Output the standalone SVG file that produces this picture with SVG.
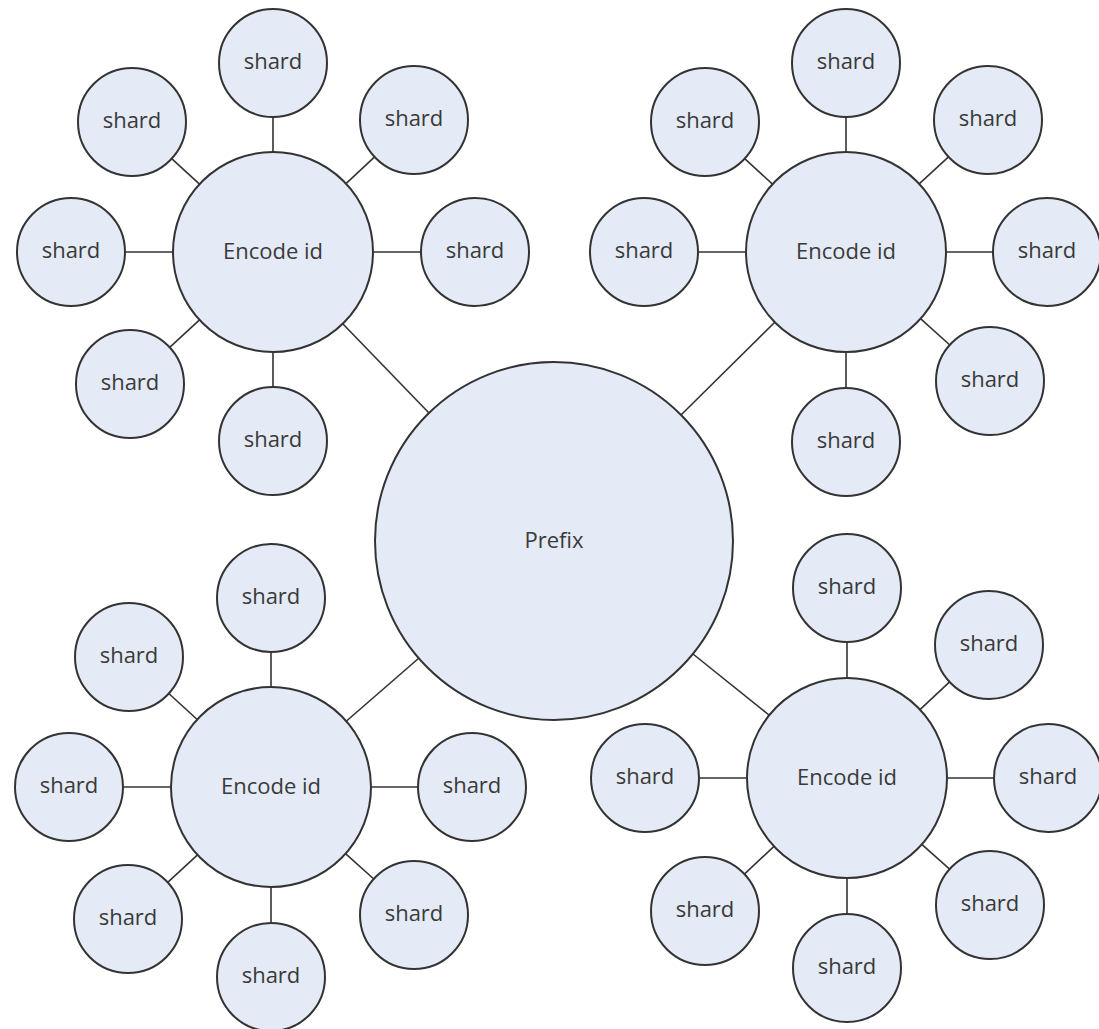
<svg xmlns="http://www.w3.org/2000/svg" width="1099" height="1029" viewBox="0 0 1099 1029">
<style>
.n{fill:#e4ebf6;stroke:#333;stroke-width:2}
.c line{stroke:#333;stroke-width:1.6}
text{font-family:"Open Sans","Noto Sans",sans-serif;font-size:22px;fill:#3a3a3a;text-anchor:middle}
</style>
<rect width="1099" height="1029" fill="#fff"/>
<g id="connectors" class="c">
<line x1="343" y1="324" x2="429" y2="413"/>
<line x1="775" y1="322" x2="681" y2="415"/>
<line x1="346.5" y1="721" x2="419" y2="658"/>
<line x1="769" y1="715" x2="693" y2="654"/>
<line x1="273" y1="117" x2="273" y2="152"/>
<line x1="199.5" y1="184.2" x2="171.7" y2="158.6"/>
<line x1="346" y1="183.6" x2="374.6" y2="156.9"/>
<line x1="125" y1="252" x2="173" y2="252"/>
<line x1="373" y1="252" x2="421" y2="252"/>
<line x1="199.5" y1="319.8" x2="169.7" y2="347.4"/>
<line x1="273" y1="352" x2="273" y2="387"/>
<line x1="846" y1="117" x2="846" y2="152"/>
<line x1="772.5" y1="184.2" x2="744.7" y2="158.6"/>
<line x1="919.2" y1="183.9" x2="948.5" y2="156.8"/>
<line x1="698" y1="252" x2="746" y2="252"/>
<line x1="946" y1="252" x2="993" y2="252"/>
<line x1="920.5" y1="318.7" x2="949.8" y2="345"/>
<line x1="846" y1="352" x2="846" y2="388"/>
<line x1="271" y1="652" x2="271" y2="687"/>
<line x1="197.2" y1="719.5" x2="168.8" y2="693.5"/>
<line x1="123" y1="787" x2="171" y2="787"/>
<line x1="371" y1="787" x2="418" y2="787"/>
<line x1="197.5" y1="854.8" x2="167.7" y2="882.4"/>
<line x1="345.5" y1="853.7" x2="373.8" y2="879"/>
<line x1="271" y1="887" x2="271" y2="923"/>
<line x1="847" y1="642" x2="847" y2="678"/>
<line x1="920" y1="709.7" x2="949.6" y2="681.9"/>
<line x1="699" y1="778" x2="747" y2="778"/>
<line x1="947" y1="778" x2="994" y2="778"/>
<line x1="774" y1="846.3" x2="744.4" y2="874.1"/>
<line x1="921.8" y1="844.4" x2="949.6" y2="869.1"/>
<line x1="847" y1="878" x2="847" y2="914"/>
</g>
<g id="prefix"><circle class="n" cx="554" cy="541" r="179"/><text x="554" y="548">Prefix</text></g>
<g id="encode-tl"><circle class="n" cx="273" cy="252" r="100"/><text x="273" y="259">Encode id</text></g>
<g id="encode-tr"><circle class="n" cx="846" cy="252" r="100"/><text x="846" y="259">Encode id</text></g>
<g id="encode-bl"><circle class="n" cx="271" cy="787" r="100"/><text x="271" y="794">Encode id</text></g>
<g id="encode-br"><circle class="n" cx="847" cy="778" r="100"/><text x="847" y="785">Encode id</text></g>
<g id="tl-s1"><circle class="n" cx="273" cy="63" r="54"/><text x="273" y="69">shard</text></g>
<g id="tl-s2"><circle class="n" cx="132" cy="122" r="54"/><text x="132" y="128">shard</text></g>
<g id="tl-s3"><circle class="n" cx="414" cy="120" r="54"/><text x="414" y="126">shard</text></g>
<g id="tl-s4"><circle class="n" cx="71" cy="252" r="54"/><text x="71" y="258">shard</text></g>
<g id="tl-s5"><circle class="n" cx="475" cy="252" r="54"/><text x="475" y="258">shard</text></g>
<g id="tl-s6"><circle class="n" cx="130" cy="384" r="54"/><text x="130" y="390">shard</text></g>
<g id="tl-s7"><circle class="n" cx="273" cy="441" r="54"/><text x="273" y="447">shard</text></g>
<g id="tr-s1"><circle class="n" cx="846" cy="63" r="54"/><text x="846" y="69">shard</text></g>
<g id="tr-s2"><circle class="n" cx="705" cy="122" r="54"/><text x="705" y="128">shard</text></g>
<g id="tr-s3"><circle class="n" cx="988" cy="120" r="54"/><text x="988" y="126">shard</text></g>
<g id="tr-s4"><circle class="n" cx="644" cy="252" r="54"/><text x="644" y="258">shard</text></g>
<g id="tr-s5"><circle class="n" cx="1047" cy="252" r="54"/><text x="1047" y="258">shard</text></g>
<g id="tr-s6"><circle class="n" cx="990" cy="381" r="54"/><text x="990" y="387">shard</text></g>
<g id="tr-s7"><circle class="n" cx="846" cy="442" r="54"/><text x="846" y="448">shard</text></g>
<g id="bl-s1"><circle class="n" cx="271" cy="598" r="54"/><text x="271" y="604">shard</text></g>
<g id="bl-s2"><circle class="n" cx="129" cy="657" r="54"/><text x="129" y="663">shard</text></g>
<g id="bl-s3"><circle class="n" cx="69" cy="787" r="54"/><text x="69" y="793">shard</text></g>
<g id="bl-s4"><circle class="n" cx="472" cy="787" r="54"/><text x="472" y="793">shard</text></g>
<g id="bl-s5"><circle class="n" cx="128" cy="919" r="54"/><text x="128" y="925">shard</text></g>
<g id="bl-s6"><circle class="n" cx="414" cy="915" r="54"/><text x="414" y="921">shard</text></g>
<g id="bl-s7"><circle class="n" cx="271" cy="977" r="54"/><text x="271" y="983">shard</text></g>
<g id="br-s1"><circle class="n" cx="847" cy="588" r="54"/><text x="847" y="594">shard</text></g>
<g id="br-s2"><circle class="n" cx="989" cy="645" r="54"/><text x="989" y="651">shard</text></g>
<g id="br-s3"><circle class="n" cx="645" cy="778" r="54"/><text x="645" y="784">shard</text></g>
<g id="br-s4"><circle class="n" cx="1048" cy="778" r="54"/><text x="1048" y="784">shard</text></g>
<g id="br-s5"><circle class="n" cx="705" cy="911" r="54"/><text x="705" y="917">shard</text></g>
<g id="br-s6"><circle class="n" cx="990" cy="905" r="54"/><text x="990" y="911">shard</text></g>
<g id="br-s7"><circle class="n" cx="847" cy="968" r="54"/><text x="847" y="974">shard</text></g>
</svg>
